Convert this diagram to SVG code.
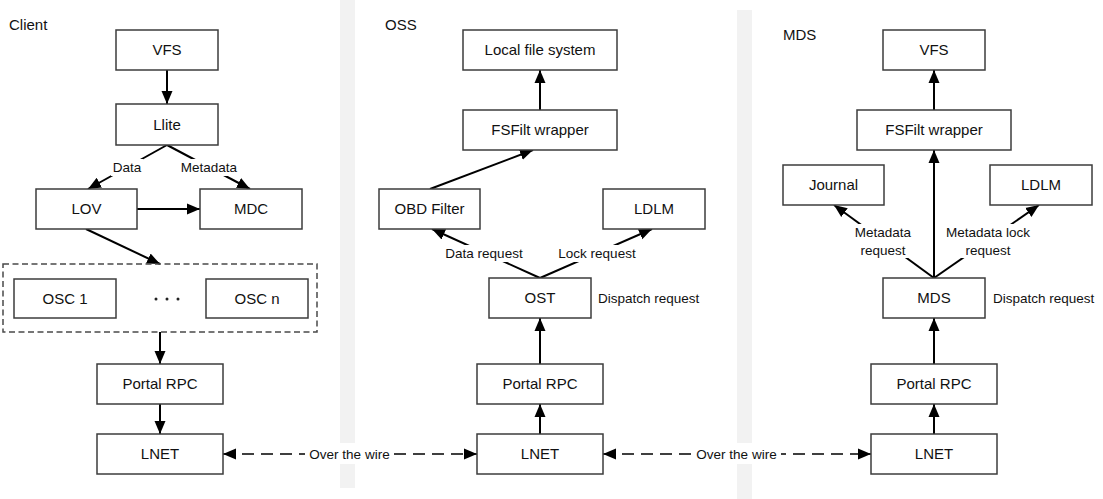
<svg xmlns="http://www.w3.org/2000/svg" width="1103" height="499" viewBox="0 0 1103 499">
  <style>
    .box { fill: #ffffff; stroke: #3c3c3c; stroke-width: 1.5; }
    .lbl { font-family: "Liberation Sans", Arial, sans-serif; font-size: 15px; fill: #111; text-anchor: middle; }
    .sm { font-family: "Liberation Sans", Arial, sans-serif; font-size: 13.5px; fill: #111; }
    .mid { text-anchor: middle; }
    .title { font-family: "Liberation Sans", Arial, sans-serif; font-size: 15px; fill: #111; }
    .ln { stroke: #000; stroke-width: 2; fill: none; }
    .dash { stroke: #000; stroke-width: 1.6; fill: none; stroke-dasharray: 12 7; }
    .bg { fill: #ffffff; }
    .bar { fill: #f2f2f2; }
  </style>
  <defs>
    <marker id="ah" markerUnits="userSpaceOnUse" markerWidth="14" markerHeight="14" viewBox="0 0 14 14" refX="13" refY="7" orient="auto-start-reverse">
      <path d="M0,1.5 L13,7 L0,12.5 Z" fill="#000"/>
    </marker>
  </defs>
  <rect width="1103" height="499" fill="#ffffff"/>

  <!-- lane separators -->
  <g id="separators">
    <rect class="bar" x="340" y="0" width="15" height="488"/>
    <rect class="bar" x="737" y="10" width="15" height="489"/>
  </g>

  <!-- section titles -->
  <text class="title" x="9" y="30">Client</text>
  <text class="title" x="385" y="30">OSS</text>
  <text class="title" x="783" y="40">MDS</text>

  <!-- connectors -->
  <g id="connectors">
    <!-- Client -->
    <line class="ln" x1="167" y1="70" x2="167" y2="104" marker-end="url(#ah)"/>
    <line class="ln" x1="167" y1="145" x2="88" y2="189" marker-end="url(#ah)"/>
    <line class="ln" x1="167" y1="145" x2="250" y2="189" marker-end="url(#ah)"/>
    <line class="ln" x1="137" y1="209" x2="200" y2="209" marker-end="url(#ah)"/>
    <line class="ln" x1="86" y1="229" x2="160" y2="264" marker-end="url(#ah)"/>
    <line class="ln" x1="160" y1="332" x2="160" y2="364" marker-end="url(#ah)"/>
    <line class="ln" x1="160" y1="404" x2="160" y2="434" marker-end="url(#ah)"/>
    <!-- OSS -->
    <line class="ln" x1="540" y1="110" x2="540" y2="70" marker-end="url(#ah)"/>
    <line class="ln" x1="430" y1="189" x2="533" y2="150" marker-end="url(#ah)"/>
    <line class="ln" x1="540" y1="278" x2="432" y2="229" marker-end="url(#ah)"/>
    <line class="ln" x1="540" y1="278" x2="652" y2="229" marker-end="url(#ah)"/>
    <line class="ln" x1="540" y1="364" x2="540" y2="318" marker-end="url(#ah)"/>
    <line class="ln" x1="540" y1="434" x2="540" y2="404" marker-end="url(#ah)"/>
    <!-- MDS -->
    <line class="ln" x1="934" y1="110" x2="934" y2="70" marker-end="url(#ah)"/>
    <line class="ln" x1="934" y1="278" x2="934" y2="150" marker-end="url(#ah)"/>
    <line class="ln" x1="934" y1="278" x2="834" y2="205" marker-end="url(#ah)"/>
    <line class="ln" x1="934" y1="278" x2="1039" y2="205" marker-end="url(#ah)"/>
    <line class="ln" x1="934" y1="364" x2="934" y2="318" marker-end="url(#ah)"/>
    <line class="ln" x1="934" y1="434" x2="934" y2="404" marker-end="url(#ah)"/>
    <!-- over the wire -->
    <line class="dash" x1="223" y1="454" x2="477" y2="454" marker-start="url(#ah)" marker-end="url(#ah)"/>
    <line class="dash" x1="603" y1="454" x2="871" y2="454" marker-start="url(#ah)" marker-end="url(#ah)"/>

    <!-- connector labels -->
    <rect class="bg" x="111" y="159" width="32" height="17"/>
    <text class="sm mid" x="127" y="172">Data</text>
    <rect class="bg" x="178" y="159" width="62" height="17"/>
    <text class="sm mid" x="209" y="172">Metadata</text>

    <rect class="bg" x="443" y="245" width="82" height="17"/>
    <text class="sm mid" x="484" y="258">Data request</text>
    <rect class="bg" x="556" y="245" width="82" height="17"/>
    <text class="sm mid" x="597" y="258">Lock request</text>

    <rect class="bg" x="851" y="224" width="64" height="34"/>
    <text class="sm mid" x="883" y="237">Metadata</text>
    <text class="sm mid" x="883" y="255">request</text>
    <rect class="bg" x="943" y="224" width="92" height="34"/>
    <text class="sm mid" x="988" y="237">Metadata lock</text>
    <text class="sm mid" x="988" y="255">request</text>

    <rect class="bg" x="305" y="443" width="89" height="21"/>
    <text class="sm mid" x="349.5" y="459">Over the wire</text>
    <rect class="bg" x="692" y="443" width="89" height="21"/>
    <text class="sm mid" x="736.5" y="459">Over the wire</text>

    <text class="sm" x="598" y="303">Dispatch request</text>
    <text class="sm" x="993" y="303">Dispatch request</text>
  </g>

  <!-- Client nodes -->
  <g id="client-vfs"><rect class="box" x="116" y="30" width="102" height="40"/><text class="lbl" x="167" y="55">VFS</text></g>
  <g id="client-llite"><rect class="box" x="116" y="104" width="102" height="41"/><text class="lbl" x="167" y="130">Llite</text></g>
  <g id="client-lov"><rect class="box" x="36" y="189" width="101" height="40"/><text class="lbl" x="86.5" y="214">LOV</text></g>
  <g id="client-mdc"><rect class="box" x="200" y="189" width="102" height="40"/><text class="lbl" x="251" y="214">MDC</text></g>
  <g id="client-osc-group">
    <rect x="3" y="264" width="314" height="68" fill="none" stroke="#4a4a4a" stroke-width="1.5" stroke-dasharray="6 3.5"/>
    <circle cx="156" cy="299" r="1.5" fill="#222"/>
    <circle cx="167" cy="299" r="1.5" fill="#222"/>
    <circle cx="178" cy="299" r="1.5" fill="#222"/>
  </g>
  <g id="client-osc1"><rect class="box" x="14" y="279" width="102" height="39"/><text class="lbl" x="65" y="304">OSC 1</text></g>
  <g id="client-oscn"><rect class="box" x="206" y="279" width="102" height="39"/><text class="lbl" x="257" y="304">OSC n</text></g>
  <g id="client-rpc"><rect class="box" x="97" y="364" width="126" height="40"/><text class="lbl" x="160" y="389">Portal RPC</text></g>
  <g id="client-lnet"><rect class="box" x="97" y="434" width="126" height="40"/><text class="lbl" x="160" y="459">LNET</text></g>

  <!-- OSS nodes -->
  <g id="oss-localfs"><rect class="box" x="463" y="30" width="154" height="40"/><text class="lbl" x="540" y="55">Local file system</text></g>
  <g id="oss-fsfilt"><rect class="box" x="463" y="110" width="154" height="40"/><text class="lbl" x="540" y="135">FSFilt wrapper</text></g>
  <g id="oss-obd"><rect class="box" x="379" y="189" width="101" height="40"/><text class="lbl" x="429.5" y="214">OBD Filter</text></g>
  <g id="oss-ldlm"><rect class="box" x="603" y="189" width="102" height="40"/><text class="lbl" x="654" y="214">LDLM</text></g>
  <g id="oss-ost"><rect class="box" x="489" y="278" width="102" height="40"/><text class="lbl" x="540" y="303">OST</text></g>
  <g id="oss-rpc"><rect class="box" x="477" y="364" width="126" height="40"/><text class="lbl" x="540" y="389">Portal RPC</text></g>
  <g id="oss-lnet"><rect class="box" x="477" y="434" width="126" height="40"/><text class="lbl" x="540" y="459">LNET</text></g>

  <!-- MDS nodes -->
  <g id="mds-vfs"><rect class="box" x="883" y="30" width="102" height="40"/><text class="lbl" x="934" y="55">VFS</text></g>
  <g id="mds-fsfilt"><rect class="box" x="857" y="110" width="154" height="40"/><text class="lbl" x="934" y="135">FSFilt wrapper</text></g>
  <g id="mds-journal"><rect class="box" x="783" y="165" width="101" height="40"/><text class="lbl" x="833.5" y="190">Journal</text></g>
  <g id="mds-ldlm"><rect class="box" x="990" y="165" width="102" height="40"/><text class="lbl" x="1041" y="190">LDLM</text></g>
  <g id="mds-mds"><rect class="box" x="883" y="278" width="102" height="40"/><text class="lbl" x="934" y="303">MDS</text></g>
  <g id="mds-rpc"><rect class="box" x="871" y="364" width="126" height="40"/><text class="lbl" x="934" y="389">Portal RPC</text></g>
  <g id="mds-lnet"><rect class="box" x="871" y="434" width="126" height="40"/><text class="lbl" x="934" y="459">LNET</text></g>
</svg>
